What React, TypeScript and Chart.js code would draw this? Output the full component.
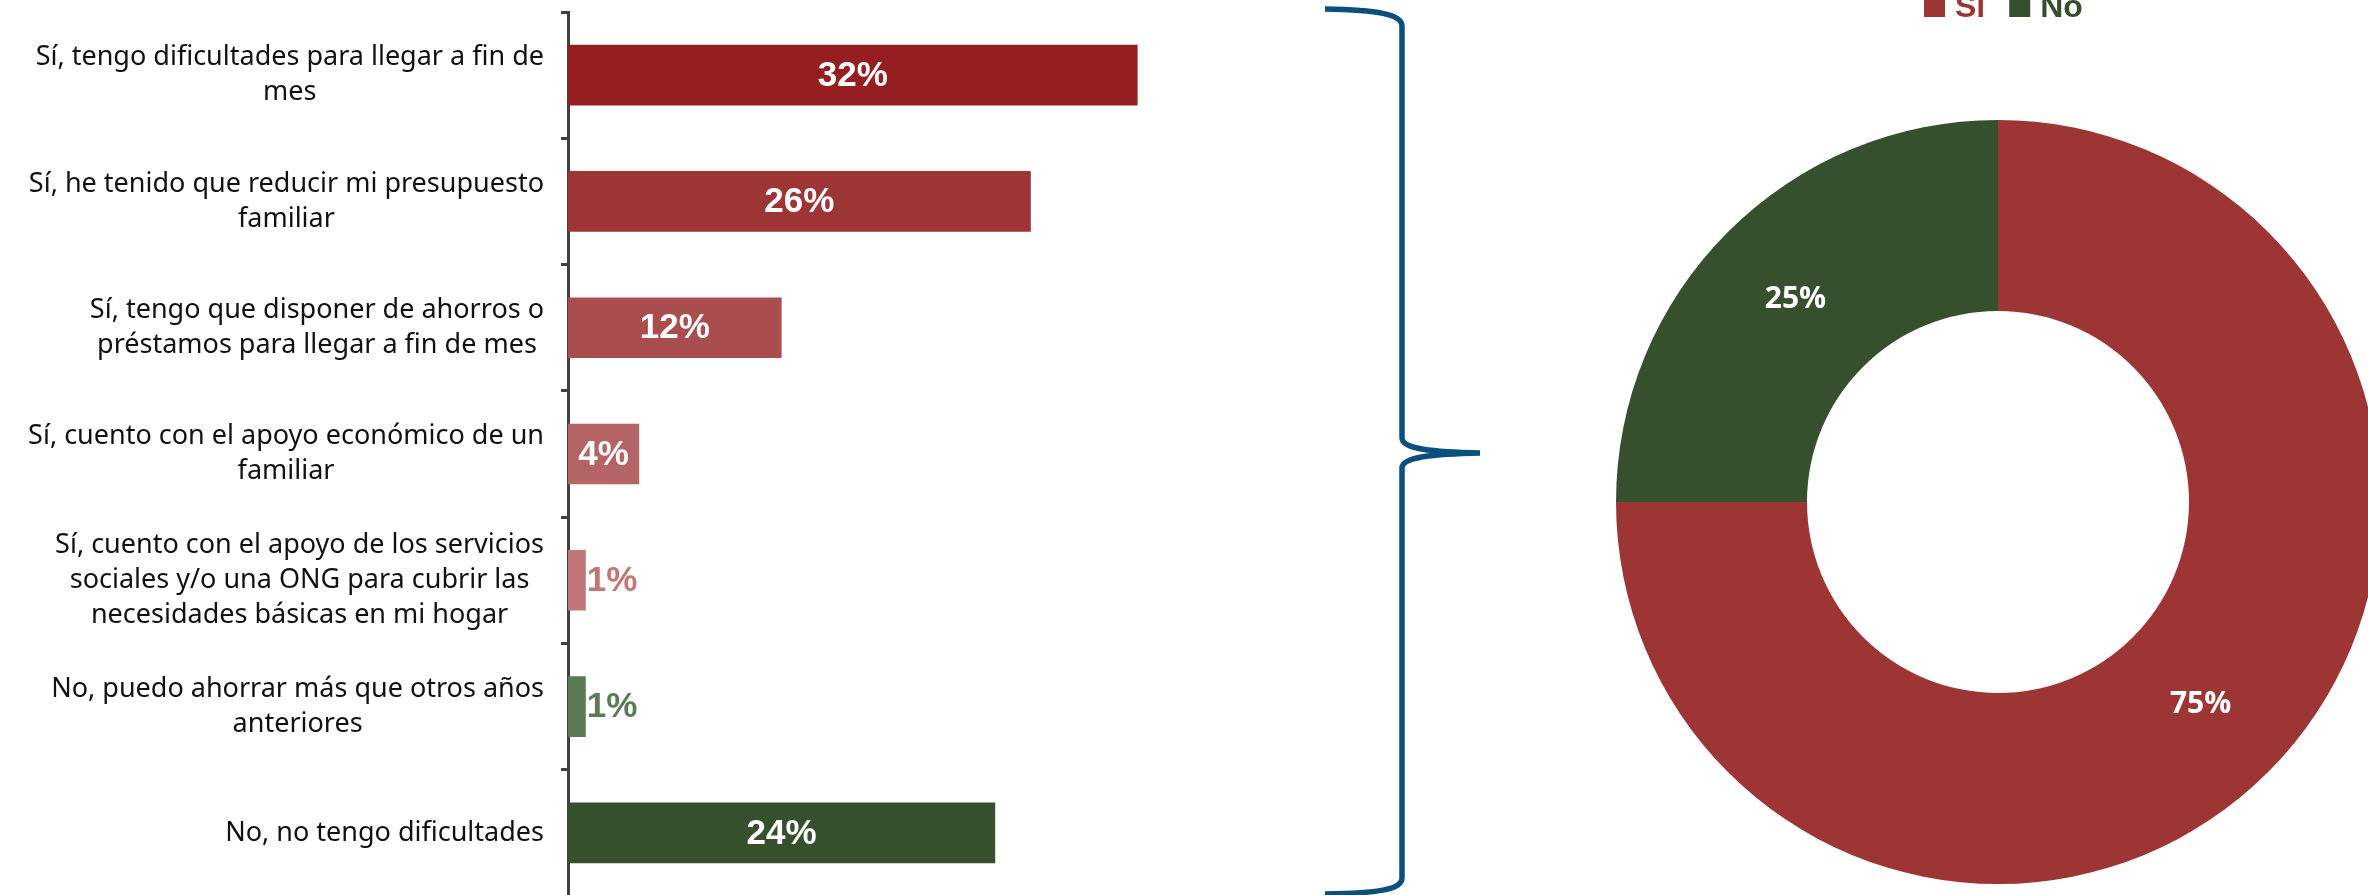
import React, { useEffect, useRef } from "react";
import { Chart, registerables } from "chart.js";

Chart.register(...registerables);

// ---------- DATA ----------
const categories: string[][] = [
  ["Sí, tengo dificultades para llegar a fin de", "mes"],
  ["Sí, he tenido que reducir mi presupuesto", "familiar"],
  ["Sí, tengo que disponer de ahorros o", "préstamos para llegar a fin de mes"],
  ["Sí, cuento con el apoyo económico de un", "familiar"],
  [
    "Sí, cuento con el apoyo de los servicios",
    "sociales y/o una ONG para cubrir las",
    "necesidades básicas en mi hogar",
  ],
  ["No, puedo ahorrar más que otros años", "anteriores"],
  ["No, no tengo dificultades"],
];
const barValues = [32, 26, 12, 4, 1, 1, 24];
const barColors = ["#951F20", "#9E3535", "#A94D4E", "#B46465", "#C37677", "#5B7A55", "#36502E"];

const donutLabels = ["Sí", "No"];
const donutValues = [75, 25];
const donutColors = ["#9E3535", "#36502E"];

// ---------- LAYOUT ----------
const BAR_W = 1280;
const BAR_H = 900;
const AXIS_X = 568;
const LABEL_RIGHT = 544;

const DONUT_LEFT = 1616;
const DONUT_W = 764;
const DONUT_H = 884;

const barLabelsPlugin = {
  id: "barLabels",
  afterDraw(chart: any) {
    const ctx = chart.ctx;
    const ys = chart.scales.y;
    ctx.save();
    // category labels
    ctx.font = "27px 'Noto Sans', 'Liberation Sans', sans-serif";
    ctx.fillStyle = "#111111";
    ctx.textAlign = "center";
    ctx.textBaseline = "middle";
    const lh = 35;
    categories.forEach((lines, i) => {
      const yc = ys.getPixelForValue(i);
      const w = Math.max(...lines.map((l) => ctx.measureText(l).width));
      const cx = LABEL_RIGHT - w / 2;
      lines.forEach((l, j) => {
        ctx.fillText(l, cx, yc + (j - (lines.length - 1) / 2) * lh);
      });
    });
    // value labels
    ctx.font = "bold 35px 'Liberation Sans', Arial, sans-serif";
    const meta = chart.getDatasetMeta(0);
    meta.data.forEach((el: any, i: number) => {
      const v = barValues[i];
      const txt = `${v}%`;
      if (v >= 4) {
        ctx.fillStyle = "#FFFFFF";
        ctx.textAlign = "center";
        ctx.fillText(txt, (el.x + el.base) / 2, el.y + 1);
      } else {
        ctx.fillStyle = barColors[i];
        ctx.textAlign = "left";
        ctx.fillText(txt, el.x + 1, el.y + 1);
      }
    });
    ctx.restore();
  },
};

const donutPlugin = {
  id: "donutExtras",
  afterDraw(chart: any) {
    const ctx = chart.ctx;
    ctx.save();
    // slice labels
    ctx.font = "bold 30px 'Open Sans', 'Liberation Sans', sans-serif";
    ctx.fillStyle = "#FFFFFF";
    ctx.textAlign = "center";
    ctx.textBaseline = "middle";
    const meta = chart.getDatasetMeta(0);
    meta.data.forEach((arc: any, i: number) => {
      const p = arc.tooltipPosition();
      ctx.fillText(`${donutValues[i]}%`, p.x, p.y);
    });
    // legend (top, partially cut off)
    ctx.font = "bold 32px 'Liberation Sans', Arial, sans-serif";
    ctx.textAlign = "left";
    ctx.textBaseline = "alphabetic";
    let x = 308;
    donutLabels.forEach((lab, i) => {
      ctx.fillStyle = donutColors[i];
      ctx.fillRect(x, -4, 21, 21);
      x += 31;
      ctx.fillText(lab, x, 17);
      x += ctx.measureText(lab).width + 24;
    });
    ctx.restore();
  },
};

export default function App() {
  const barRef = useRef<HTMLCanvasElement | null>(null);
  const donutRef = useRef<HTMLCanvasElement | null>(null);

  useEffect(() => {
    const bar = new Chart(barRef.current as HTMLCanvasElement, {
      type: "bar",
      data: {
        labels: categories.map((c) => c.join(" ")),
        datasets: [
          {
            data: barValues,
            backgroundColor: barColors,
            borderWidth: 0,
            barPercentage: 0.48,
            categoryPercentage: 1,
          },
        ],
      },
      options: {
        indexAxis: "y",
        animation: false,
        responsive: false,
        events: [],
        layout: { padding: { top: 12, bottom: 4, left: 0, right: 0 } },
        plugins: { legend: { display: false }, tooltip: { enabled: false } },
        scales: {
          x: { display: false, min: 0, max: 40 },
          y: {
            afterFit: (s: any) => {
              s.width = AXIS_X;
            },
            grid: {
              offset: true,
              drawOnChartArea: false,
              drawTicks: true,
              tickLength: 7,
              color: "#404040",
              lineWidth: 3,
            },
            border: { display: true, color: "#404040", width: 3 },
            ticks: { display: false },
          },
        },
      } as any,
      plugins: [barLabelsPlugin],
    });

    const donut = new Chart(donutRef.current as HTMLCanvasElement, {
      type: "doughnut",
      data: {
        labels: donutLabels,
        datasets: [
          {
            data: donutValues,
            backgroundColor: donutColors,
            borderWidth: 0,
            hoverOffset: 0,
          },
        ],
      },
      options: {
        animation: false,
        responsive: false,
        events: [],
        cutout: "50%",
        rotation: 0,
        layout: { padding: { top: 120, bottom: 0, left: 0, right: 0 } },
        plugins: { legend: { display: false }, tooltip: { enabled: false } },
      } as any,
      plugins: [donutPlugin],
    });

    return () => {
      bar.destroy();
      donut.destroy();
    };
  }, []);

  return (
    <div
      style={{
        position: "fixed",
        left: 0,
        top: 0,
        width: 2368,
        height: 895,
        overflow: "hidden",
        background: "#FFFFFF",
      }}
    >
      <canvas
        ref={barRef}
        width={BAR_W}
        height={BAR_H}
        style={{ position: "absolute", left: 0, top: 0, width: BAR_W, height: BAR_H, display: "block" }}
      />
      <svg
        width={2368}
        height={895}
        style={{ position: "absolute", left: 0, top: 0, pointerEvents: "none" }}
      >
        <path
          d="M1325 9 C1377 10 1402 14 1402 26 L1402 438 C1402 449 1432 452 1480 453 C1432 454 1402 457 1402 468 L1402 878 C1402 890 1377 893 1325 894"
          fill="none"
          stroke="#0B4F7C"
          strokeWidth={5.5}
        />
      </svg>
      <canvas
        ref={donutRef}
        width={DONUT_W}
        height={DONUT_H}
        style={{
          position: "absolute",
          left: DONUT_LEFT,
          top: 0,
          width: DONUT_W,
          height: DONUT_H,
          display: "block",
        }}
      />
    </div>
  );
}
